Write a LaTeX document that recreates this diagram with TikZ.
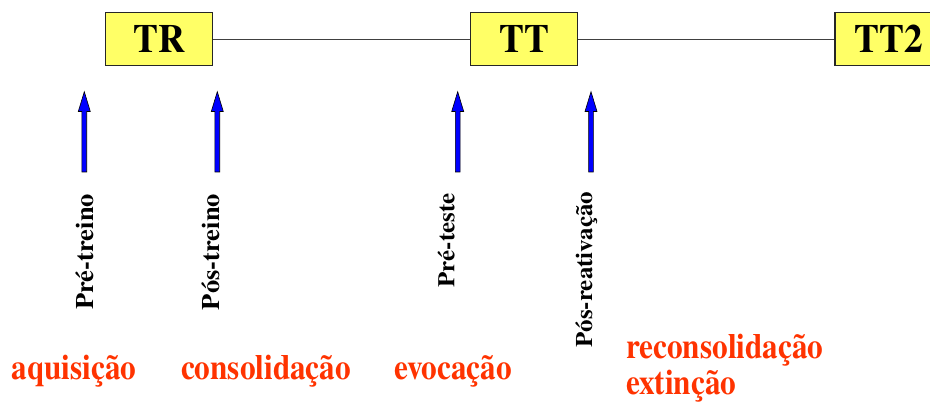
\documentclass[tikz,border=0pt]{standalone}
\usepackage{fontspec}
\newfontfamily\timesbold{texgyretermes-bold.otf}
\usepackage{graphicx}
\definecolor{boxyellow}{HTML}{FFFF66}
\definecolor{labred}{HTML}{FF3300}
\definecolor{arrblue}{HTML}{0000FF}
\begin{document}
\begin{tikzpicture}[x=1pt,y=-1pt,
  stagebox/.style={draw=black!85, line width=1.1pt, fill=boxyellow,
    minimum width=107pt, minimum height=53.5pt, inner sep=0pt,
    font=\timesbold\fontsize{40}{40}\selectfont},
  linkline/.style={draw=black!75, line width=0.9pt},
  vlabel/.style={rotate=90, anchor=base east, inner sep=0pt, outer sep=0pt},
  phasetext/.style={anchor=base west, inner sep=0pt, outer sep=0pt, text=labred,
    font=\timesbold\fontsize{35.5}{36}\selectfont},
  pics/barrow/.style={code={
    \draw[fill=arrblue, draw=black, line width=0.6pt]
      (-2.4,172) -- (-2.4,111.5) -- (-6,111.5) -- (0,91.7) -- (6,111.5)
      -- (2.4,111.5) -- (2.4,172) -- cycle;}}]
\useasboundingbox (0,0) rectangle (930,403);
\clip (0,0) rectangle (930,403);
% stages
\node[stagebox] (TR)  at (159.3,39) {\scalebox{0.93}[1]{TR}};
\node[stagebox] (TT)  at (524.2,39) {\scalebox{0.93}[1]{TT}};
\node[stagebox] (TT2) at (888.5,39) {\scalebox{0.93}[1]{TT2}};
\draw[linkline] (TR.east) -- (TT.west);
\draw[linkline] (TT.east) -- (TT2.west);
% arrows
\pic (a1) at (84.3,0)  {barrow};
\pic (a2) at (217.3,0) {barrow};
\pic (a3) at (457.7,0) {barrow};
\pic (a4) at (591,0)   {barrow};
% rotated labels
\node[vlabel, font=\timesbold\fontsize{26.5}{28}\selectfont] (l1) at (93.3,194) {\scalebox{1}[0.95]{Pré-treino}};
\node[vlabel, font=\timesbold\fontsize{26.5}{28}\selectfont] (l2) at (219.3,194) {\scalebox{1}[0.95]{Pós-treino}};
\node[vlabel, font=\timesbold\fontsize{25}{26}\selectfont] (l3) at (454.3,193.3) {\scalebox{1}[0.95]{Pré-teste}};
\node[vlabel, font=\timesbold\fontsize{25}{26}\selectfont] (l4) at (592,191.7) {\scalebox{1}[0.95]{Pós-reativação}};
% phases
\node[phasetext] (p1) at (11.7,379.3) {\scalebox{0.88}[1]{aquisição}};
\node[phasetext] (p2) at (181,379.3) {\scalebox{0.88}[1]{consolidação}};
\node[phasetext] (p3) at (394.3,379.3) {\scalebox{0.88}[1]{evocação}};
\node[phasetext] (p4) at (626,359) {\scalebox{0.88}[1]{reconsolidação}};
\node[phasetext] (p5) at (626,395) {\scalebox{0.88}[1]{extinção}};
\end{tikzpicture}
\end{document}
